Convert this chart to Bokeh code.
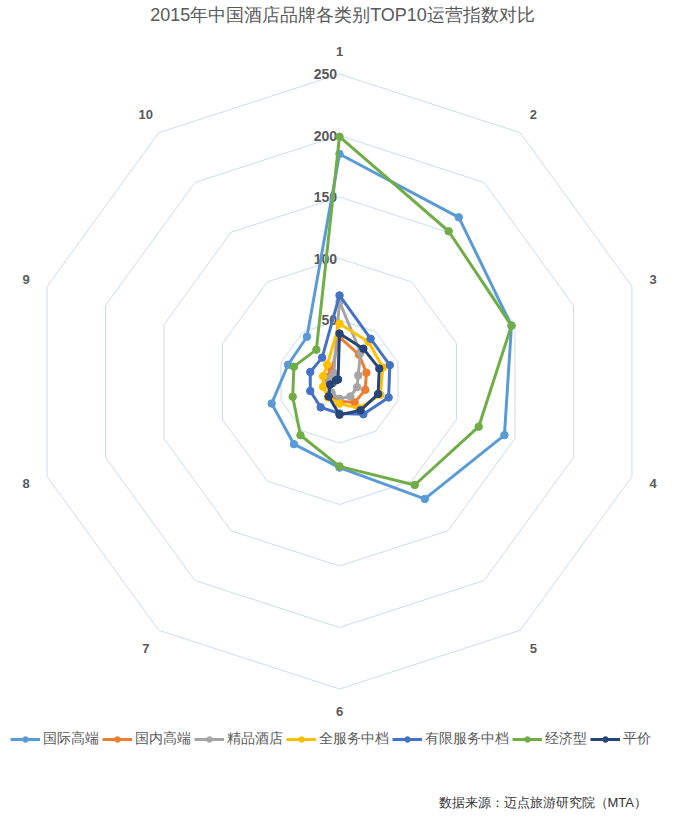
import numpy as np
from bokeh.plotting import figure
from bokeh.models import Legend, LegendItem, Label
from bokeh.embed import file_html
from bokeh.resources import INLINE

axes_labels = ["1","2","3","4","5","6","7","8","9","10"]
ring_values = [50, 100, 150, 200, 250]
series_names = ["国际高端","国内高端","精品酒店","全服务中档","有限服务中档","经济型","平价"]
intl_high = [185,165,147,141,118,70,63,58,44,45]
dom_high = [36,27,23,22,21,16,13,10,12,11]
boutique = [65,29,16,15,15,14,11,10,8,8]
full_mid = [47,40,37,35,27,18,16,14,14,17]
limited_mid = [70,43,43,42,33,26,26,25,25,24]
economy = [199,151,147,119,104,69,54,40,39,32]
budget = [39,33,34,33,29,27,15,8,3,2]
series_values = [intl_high, dom_high, boutique, full_mid, limited_mid, economy, budget]
colors = ["#5b9bd5","#ed7d31","#a5a5a5","#ffc000","#4472c4","#70ad47","#264478"]

W, H = 684, 815
s = 1.23
cx, cy = 339, 381
p = figure(width=W, height=H, output_backend="svg", toolbar_location=None,
           x_range=(-cx/s, (W-cx)/s), y_range=(-(H-cy)/s, cy/s),
           min_border=0, outline_line_color=None)
p.axis.visible = False
p.grid.visible = False

n = len(axes_labels)
ang = np.pi/2 - np.arange(n)*2*np.pi/n
for r in ring_values:
    xs = list(r*np.cos(ang)) + [r*np.cos(ang[0])]
    ys = list(r*np.sin(ang)) + [r*np.sin(ang[0])]
    p.line(xs, ys, line_color="#c9dcf0", line_width=1)

lr = 268
p.text(x=list(lr*np.cos(ang)), y=list(lr*np.sin(ang)), text=axes_labels,
       text_align="center", text_baseline="middle", text_font_size="13px",
       text_color="#595959", text_font_style="bold")
p.text(x=[-2]*6, y=[0]+ring_values, text=["0"]+[str(v) for v in ring_values],
       text_align="right", text_baseline="middle", text_font_size="14px",
       text_color="#595959", text_font_style="bold")

items = []
for name, vals, c in zip(series_names, series_values, colors):
    v = np.array(vals, dtype=float)
    xs = list(v*np.cos(ang)) + [v[0]*np.cos(ang[0])]
    ys = list(v*np.sin(ang)) + [v[0]*np.sin(ang[0])]
    l = p.line(xs, ys, line_color=c, line_width=3)
    ci = p.scatter(xs[:-1], ys[:-1], size=7.5, fill_color=c, line_color=c)
    items.append(LegendItem(label=name, renderers=[l, ci]))

leg = Legend(items=items, orientation="horizontal", location=(10, 67),
             label_text_font_size="14px", label_text_color="#595959",
             glyph_width=30, glyph_height=14, label_standoff=3, spacing=3,
             padding=0, margin=0, border_line_color=None, background_fill_alpha=0)
p.add_layout(leg, "center")

p.add_layout(Label(x=438, y=6, x_units="screen", y_units="screen",
                   text="数据来源：迈点旅游研究院（MTA）", text_font_size="13px",
                   text_color="#333333"))
p.add_layout(Label(x=W/2, y=H-24, x_units="screen", y_units="screen",
                   text="2015年中国酒店品牌各类别TOP10运营指数对比", text_align="center",
                   text_font_size="18px", text_color="#595959"))

open("out.html", "w").write(file_html(p, INLINE))
